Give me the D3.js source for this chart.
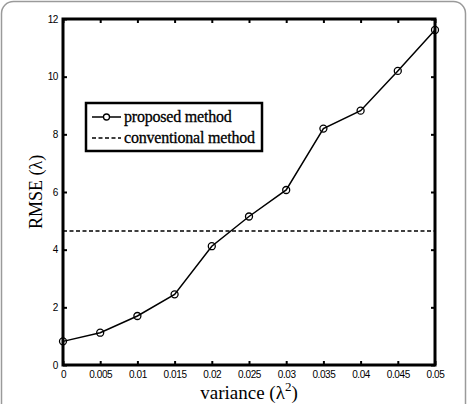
<!DOCTYPE html>
<html>
<head>
<meta charset="utf-8">
<script src="https://cdnjs.cloudflare.com/ajax/libs/d3/7.8.5/d3.min.js"></script>
<style>
  body { margin: 0; background: #fff; }
  svg { display: block; }
</style>
</head>
<body>
<div id="chart"></div>
<script>
var variance = [0, 0.005, 0.01, 0.015, 0.02, 0.025, 0.03, 0.035, 0.04, 0.045, 0.05];
var proposedRmse = [0.82, 1.12, 1.7, 2.45, 4.12, 5.15, 6.07, 8.2, 8.82, 10.2, 11.62];
var conventionalRmse = 4.65;
var xTickLabels = ["0", "0.005", "0.01", "0.015", "0.02", "0.025", "0.03", "0.035", "0.04", "0.045", "0.05"];
var yTicks = [0, 2, 4, 6, 8, 10, 12];
var legendLabels = ["proposed method", "conventional method"];

function drawChart() {
  "use strict";
  var width = 469, height = 404;
  var plotLeft = 63, plotRight = 435, plotTop = 19, plotBottom = 365;

  var svg = d3.select("#chart").append("svg")
    .attr("width", width)
    .attr("height", height);

  // outer rounded frame (bottom edge runs off the picture)
  svg.append("rect")
    .attr("x", 1.5).attr("y", 1.5)
    .attr("width", 464).attr("height", 430)
    .attr("rx", 12)
    .style("fill", "none")
    .style("stroke", "#9a9a9a")
    .style("stroke-width", 1.5);

  var x = d3.scaleLinear().domain([0, 0.05]).range([plotLeft, plotRight]);
  var y = d3.scaleLinear().domain([0, 12]).range([plotBottom, plotTop]);

  var tickFont = "'Liberation Sans Narrow', 'Liberation Sans', Arial, sans-serif";

  var xAxis = d3.axisBottom(x).tickValues(variance)
    .tickFormat(function(d, i) { return xTickLabels[i]; })
    .tickSizeInner(-4).tickSizeOuter(0).tickPadding(6);
  var xAxisTop = d3.axisTop(x).tickValues(variance).tickFormat("")
    .tickSizeInner(-4).tickSizeOuter(0);
  var yAxis = d3.axisLeft(y).tickValues(yTicks)
    .tickSizeInner(-4).tickSizeOuter(0).tickPadding(5);
  var yAxisRight = d3.axisRight(y).tickValues(yTicks).tickFormat("")
    .tickSizeInner(-4).tickSizeOuter(0);

  function styleAxis(g) {
    g.select(".domain").remove();
    g.selectAll(".tick line").style("stroke", "#000").style("stroke-width", 2);
    g.selectAll("text")
      .style("font-family", tickFont)
      .style("font-size", "10px")
      .style("letter-spacing", "-0.4px")
      .style("fill", "#000");
  }

  svg.append("g").attr("transform", "translate(0," + plotBottom + ")").call(xAxis).call(styleAxis);
  svg.append("g").attr("transform", "translate(0," + plotTop + ")").call(xAxisTop).call(styleAxis);
  svg.append("g").attr("transform", "translate(" + plotLeft + ",0)").call(yAxis).call(styleAxis);
  svg.append("g").attr("transform", "translate(" + plotRight + ",0)").call(yAxisRight).call(styleAxis);

  // conventional method (constant)
  svg.append("line")
    .attr("x1", x(0)).attr("x2", x(0.05))
    .attr("y1", y(conventionalRmse)).attr("y2", y(conventionalRmse))
    .style("stroke", "#000")
    .style("stroke-width", 1.5)
    .style("stroke-dasharray", "4,2.5");

  // proposed method
  var line = d3.line()
    .x(function(d, i) { return x(variance[i]); })
    .y(function(d) { return y(d); });

  svg.append("path")
    .datum(proposedRmse)
    .attr("d", line)
    .style("fill", "none")
    .style("stroke", "#000")
    .style("stroke-width", 1.5);

  svg.selectAll("circle.pt")
    .data(proposedRmse)
    .enter().append("circle")
    .attr("class", "pt")
    .attr("cx", function(d, i) { return x(variance[i]); })
    .attr("cy", function(d) { return y(d); })
    .attr("r", 3.5)
    .style("fill", "none")
    .style("stroke", "#000")
    .style("stroke-width", 1.3);

  // plot frame
  svg.append("rect")
    .attr("x", plotLeft).attr("y", plotTop)
    .attr("width", plotRight - plotLeft).attr("height", plotBottom - plotTop)
    .style("fill", "none")
    .style("stroke", "#000")
    .style("stroke-width", 3);

  // legend
  var legend = svg.append("g").attr("transform", "translate(86,103)");
  legend.append("rect")
    .attr("width", 176).attr("height", 48)
    .style("fill", "#fff")
    .style("stroke", "#000")
    .style("stroke-width", 2.5);

  legendLabels.forEach(function(label, i) {
    var ly = 14 + i * 21;
    var row = legend.append("g").attr("transform", "translate(0," + ly + ")");
    row.append("line")
      .attr("x1", 6).attr("x2", 35)
      .attr("y1", 0).attr("y2", 0)
      .style("stroke", "#000")
      .style("stroke-width", 1.5)
      .style("stroke-dasharray", i === 0 ? null : "4,2.5");
    if (i === 0) {
      row.append("circle")
        .attr("cx", 20.5).attr("cy", 0).attr("r", 3)
        .style("fill", "#fff")
        .style("stroke", "#000")
        .style("stroke-width", 1.3);
    }
    row.append("text")
      .attr("x", 38).attr("y", 5)
      .style("font-family", "'Liberation Serif', 'Times New Roman', serif")
      .style("font-size", "16px")
      .style("letter-spacing", "-0.2px")
      .style("fill", "#000")
      .style("stroke", "#000")
      .style("stroke-width", 0.3)
      .text(label);
  });

  // axis titles
  var xTitle = svg.append("text")
    .attr("x", (plotLeft + plotRight) / 2)
    .attr("y", 399)
    .attr("text-anchor", "middle")
    .style("font-family", "'Liberation Serif', 'Times New Roman', serif")
    .style("font-size", "19px")
    .style("fill", "#000");
  xTitle.append("tspan").text("variance (\u03bb");
  xTitle.append("tspan").attr("dy", -8).style("font-size", "13px").text("2");
  xTitle.append("tspan").attr("dy", 8).text(")");

  svg.append("text")
    .attr("transform", "translate(42," + ((plotTop + plotBottom) / 2) + ") rotate(-90)")
    .attr("text-anchor", "middle")
    .style("font-family", "'Liberation Serif', 'Times New Roman', serif")
    .style("font-size", "18px")
    .style("fill", "#000")
    .text("RMSE (\u03bb)");
}

drawChart();
</script>
</body>
</html>
